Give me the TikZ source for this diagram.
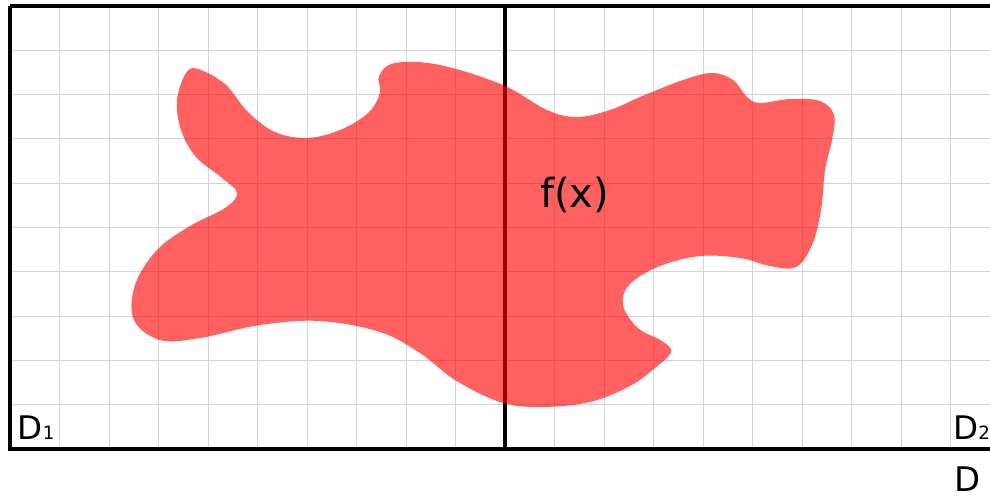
\documentclass[tikz,border=0pt]{standalone}
\usepackage{fontspec}
\setmainfont{DejaVu Sans}
\usepackage{tikz}
\usetikzlibrary{positioning}

\begin{document}
\begin{tikzpicture}[x=0.02cm,y=-0.02cm,
  griglia/.style={black!17,line width=0.5pt},
  bordo/.style={black,line width=2.6pt},
  etichetta/.style={inner sep=0pt,anchor=base west}]

% ---- parametri della griglia ----
\def\passox{49.5}
\def\passoy{44.3}

\clip (0,0) rectangle (990,500);

% ---- griglia ----
\foreach \k in {1,...,19}
  \draw[griglia] ({10+\k*\passox},6) -- ({10+\k*\passox},449);
\foreach \k in {1,...,9}
  \draw[griglia] (10,{449-\k*\passoy}) -- (1000,{449-\k*\passoy});

% ---- bordi di D ----
\draw[bordo] (10,6) -- (1000,6);
\draw[bordo] (10,6) -- (10,449) -- (1000,449);
\draw[bordo] (505,6) -- (505,449);

% ---- f(x) ----
\fill[red,fill opacity=0.62] plot[smooth cycle,tension=0.6] coordinates {
  (198,69) (225,84) (248,112) (275,132) (307,138) (340,130) (368,113)
  (380,93) (379,76) (395,63) (440,65) (503,85) (547,110) (577,117)
  (610,110) (640,97) (683,80) (712,73) (733,80) (747,97) (760,103)
  (790,99) (820,101) (834,115) (832,140) (825,170) (821,210) (812,245)
  (796,267) (770,266) (740,258) (700,256) (660,266) (630,284) (623,305)
  (638,328) (662,341) (671,352) (655,368) (630,386) (590,402) (540,407)
  (500,402) (455,380) (420,353) (380,332) (320,321) (260,325) (200,338)
  (160,340) (134,320) (135,285) (157,250) (190,226) (225,208) (237,193)
  (222,178) (196,157) (181,130) (177,100) (186,73)};

\node[etichetta] (fx) at (539.7,207) {\fontsize{22.8pt}{27pt}\selectfont f(x)};

% ---- etichette ----
\node[etichetta] (d1) at (17.5,439.3)
  {\fontsize{18.5pt}{22pt}\selectfont D{\fontsize{10.4pt}{12pt}\selectfont 1}};
\node[etichetta] (d2) at (953,439.3)
  {\fontsize{18.5pt}{22pt}\selectfont D{\fontsize{10.4pt}{12pt}\selectfont 2}};
\node[etichetta] (d) at (954.4,491.7) {\fontsize{19.3pt}{23pt}\selectfont D};

\end{tikzpicture}
\end{document}
